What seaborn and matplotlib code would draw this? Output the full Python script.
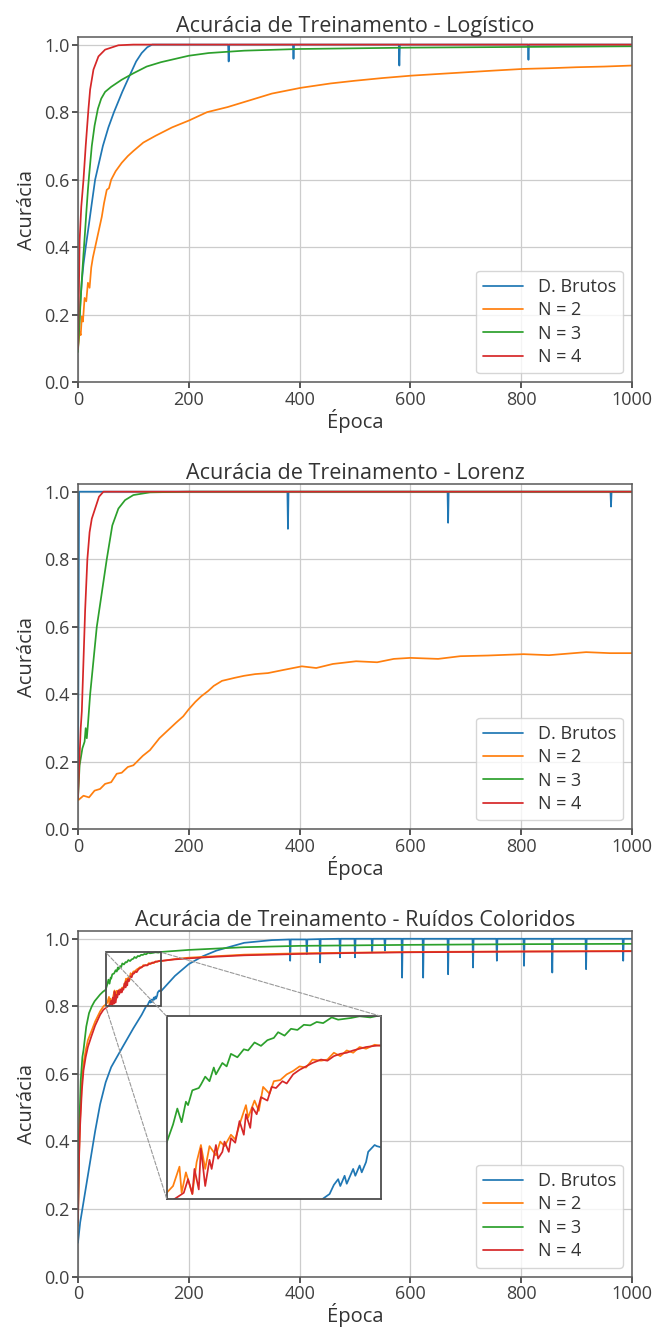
import matplotlib
matplotlib.use("Agg")
import matplotlib.pyplot as plt
import seaborn as sns
from matplotlib.patches import Rectangle, ConnectionPatch

# ---- Logístico ----
log_raw_ep = [0, 3, 7, 10, 14, 20, 25, 31, 38, 45, 55, 65, 80, 91, 105, 115, 125, 134, 200,
              271, 272, 273, 388, 389, 390, 579, 580, 581, 812, 813, 814, 1000]
log_raw_acc = [0.10, 0.20, 0.30, 0.35, 0.40, 0.47, 0.53, 0.60, 0.65, 0.70, 0.755, 0.80, 0.86, 0.90,
               0.95, 0.975, 0.992, 1.0, 1.0, 1.0, 0.95, 1.0, 1.0, 0.958, 1.0, 1.0, 0.938, 1.0,
               1.0, 0.955, 1.0, 1.0]
log_n2_ep = [0, 3, 5, 7, 9, 12, 15, 18, 21, 24, 27, 31, 35, 39, 43, 47, 52, 56, 60, 68, 79, 90,
             100, 118, 140, 170, 200, 233, 270, 300, 350, 402, 456, 500, 550, 601, 650, 700, 750,
             804, 850, 900, 950, 1000]
log_n2_acc = [0.10, 0.15, 0.14, 0.195, 0.18, 0.25, 0.24, 0.295, 0.28, 0.34, 0.37, 0.40, 0.43, 0.46,
              0.49, 0.53, 0.57, 0.575, 0.60, 0.625, 0.65, 0.67, 0.685, 0.71, 0.73, 0.755, 0.775,
              0.80, 0.815, 0.83, 0.855, 0.872, 0.885, 0.893, 0.901, 0.908, 0.913, 0.918, 0.923,
              0.928, 0.930, 0.933, 0.935, 0.938]
log_n3_ep = [0, 3, 5, 8, 10, 13, 15, 18, 20, 25, 30, 36, 42, 49, 60, 79, 100, 124, 150, 200, 236,
             300, 400, 500, 600, 800, 1000]
log_n3_acc = [0.09, 0.18, 0.25, 0.33, 0.38, 0.45, 0.50, 0.57, 0.61, 0.70, 0.76, 0.81, 0.84, 0.86,
              0.875, 0.896, 0.915, 0.935, 0.948, 0.967, 0.975, 0.982, 0.987, 0.989, 0.991, 0.993,
              0.995]
log_n4_ep = [0, 1, 2, 3, 6, 10, 14, 19, 22, 28, 37, 49, 73, 100, 1000]
log_n4_acc = [0.10, 0.20, 0.30, 0.42, 0.52, 0.60, 0.70, 0.81, 0.867, 0.926, 0.965, 0.985, 0.998,
              1.0, 1.0]

# ---- Lorenz ----
lor_raw_ep = [0, 2, 378, 379, 380, 667, 668, 669, 961, 962, 963, 1000]
lor_raw_acc = [0.09, 1.0, 1.0, 0.89, 1.0, 1.0, 0.908, 1.0, 1.0, 0.956, 1.0, 1.0]
lor_n2_ep = [0, 10, 20, 30, 40, 49, 60, 70, 79, 90, 100, 117, 130, 147, 160, 177, 190, 200, 212,
             223, 235, 245, 260, 283, 300, 320, 343, 370, 404, 430, 460, 502, 540, 570, 600, 650,
             690, 740, 804, 850, 917, 960, 1000]
lor_n2_acc = [0.086, 0.10, 0.095, 0.115, 0.12, 0.135, 0.14, 0.165, 0.168, 0.185, 0.19, 0.218,
              0.235, 0.27, 0.29, 0.316, 0.335, 0.356, 0.378, 0.395, 0.41, 0.425, 0.44, 0.449,
              0.455, 0.46, 0.463, 0.472, 0.483, 0.478, 0.49, 0.498, 0.495, 0.505, 0.508, 0.505,
              0.513, 0.515, 0.519, 0.516, 0.525, 0.522, 0.522]
lor_n3_ep = [0, 3, 8, 12, 14, 16, 18, 22, 28, 34, 43, 52, 62, 73, 85, 100, 130, 200, 1000]
lor_n3_acc = [0.09, 0.19, 0.24, 0.26, 0.30, 0.27, 0.31, 0.40, 0.50, 0.60, 0.70, 0.80, 0.90, 0.95,
              0.975, 0.99, 0.998, 1.0, 1.0]
lor_n4_ep = [0, 3, 5, 7, 10, 13, 17, 21, 25, 31, 38, 46, 1000]
lor_n4_acc = [0.09, 0.22, 0.30, 0.35, 0.50, 0.65, 0.80, 0.88, 0.92, 0.95, 0.985, 1.0, 1.0]

# ---- Ruídos Coloridos ----
rui_raw_ep = [0, 4, 8, 15, 22, 31, 40, 50, 60, 79, 100, 115, 123, 126, 128, 130, 131, 133, 134,
              137, 138, 140, 141, 143, 144, 147, 148, 150, 175, 200, 225, 250, 300, 350,
              382, 383, 384, 412, 413, 414, 436, 437, 438, 472, 473, 474, 499, 500, 501,
              530, 531, 532, 553, 554, 555, 584, 585, 586, 622, 623, 624, 667, 668, 669,
              712, 713, 714, 755, 756, 757, 804, 805, 806, 855, 856, 857, 916, 917, 918,
              983, 984, 985, 1000]
rui_raw_acc = [0.10, 0.16, 0.20, 0.27, 0.34, 0.43, 0.51, 0.575, 0.62, 0.675, 0.735, 0.775, 0.80,
               0.804, 0.812, 0.817, 0.811, 0.82, 0.813, 0.826, 0.82, 0.829, 0.823, 0.832, 0.841,
               0.847, 0.846, 0.845, 0.89, 0.925, 0.948, 0.965, 0.988, 0.996,
               0.998, 0.935, 0.998, 0.998, 0.955, 0.998, 0.999, 0.93, 0.999, 1.0, 0.945, 1.0,
               1.0, 0.945, 1.0, 1.0, 0.96, 1.0, 1.0, 0.965, 1.0, 1.0, 0.885, 1.0, 1.0, 0.885,
               1.0, 1.0, 0.895, 1.0, 1.0, 0.915, 1.0, 1.0, 0.935, 1.0, 1.0, 0.92, 1.0, 1.0, 0.90,
               1.0, 1.0, 0.91, 1.0, 1.0, 0.935, 1.0, 1.0]
rui_n2_ep = [0, 2, 4, 7, 10, 14, 18, 24, 31, 40, 46, 50, 53, 56, 57, 59, 62, 64, 66, 68, 70, 73,
             75, 77, 80, 82, 84, 87, 88, 91, 93, 95, 98, 100, 103, 106, 109, 112, 115, 118, 122,
             125, 128, 131, 134, 137, 140, 143, 147, 150, 175, 200, 300, 400, 600, 1000]
rui_n2_acc = [0.15, 0.36, 0.47, 0.57, 0.63, 0.67, 0.70, 0.725, 0.755, 0.785, 0.80, 0.805, 0.811,
              0.828, 0.805, 0.823, 0.804, 0.832, 0.847, 0.826, 0.846, 0.838, 0.850, 0.846, 0.856,
              0.852, 0.865, 0.882, 0.871, 0.886, 0.877, 0.898, 0.892, 0.903, 0.904, 0.909, 0.912,
              0.916, 0.915, 0.922, 0.921, 0.922, 0.928, 0.925, 0.930, 0.928, 0.933, 0.9315, 0.935,
              0.934, 0.940, 0.944, 0.953, 0.957, 0.961, 0.964]
rui_n3_ep = [0, 2, 5, 8, 10, 15, 20, 25, 30, 40, 45, 50, 53, 55, 57, 59, 60, 62, 65, 66, 68, 70,
             72, 73, 76, 78, 80, 83, 86, 88, 91, 94, 97, 100, 102, 105, 108, 111, 114, 117, 120,
             123, 127, 130, 136, 140, 145, 150, 200, 300, 400, 600, 800, 1000]
rui_n3_acc = [0.17, 0.42, 0.58, 0.65, 0.67, 0.74, 0.78, 0.80, 0.815, 0.835, 0.843, 0.849, 0.865,
              0.879, 0.867, 0.885, 0.882, 0.895, 0.897, 0.900, 0.907, 0.903, 0.915, 0.909, 0.919,
              0.916, 0.927, 0.924, 0.931, 0.930, 0.937, 0.934, 0.939, 0.941, 0.946, 0.943, 0.949,
              0.948, 0.9525, 0.952, 0.955, 0.954, 0.959, 0.957, 0.9585, 0.960, 0.959, 0.961,
              0.967, 0.975, 0.979, 0.982, 0.984, 0.985]
rui_n4_ep = [0, 2, 4, 7, 10, 14, 18, 24, 31, 40, 46, 50, 54, 58, 60, 62, 63, 65, 66, 68, 70, 71,
             73, 74, 76, 77, 79, 80, 82, 84, 86, 87, 89, 90, 92, 94, 97, 99, 101, 104, 106, 109,
             112, 115, 118, 122, 125, 128, 131, 134, 137, 140, 143, 147, 150, 175, 200, 250, 300,
             400, 500, 600, 800, 1000]
rui_n4_acc = [0.16, 0.35, 0.45, 0.55, 0.61, 0.65, 0.68, 0.71, 0.743, 0.775, 0.79, 0.795, 0.80,
              0.805, 0.817, 0.804, 0.826, 0.808, 0.844, 0.811, 0.834, 0.826, 0.847, 0.835, 0.841,
              0.850, 0.841, 0.853, 0.849, 0.868, 0.856, 0.874, 0.862, 0.880, 0.874, 0.889, 0.886,
              0.898, 0.897, 0.903, 0.901, 0.909, 0.913, 0.916, 0.919, 0.922, 0.921, 0.925, 0.927,
              0.928, 0.930, 0.9315, 0.933, 0.934, 0.9345, 0.939, 0.942, 0.947, 0.951, 0.955,
              0.958, 0.960, 0.962, 0.963]

labels = ["D. Brutos", "N = 2", "N = 3", "N = 4"]
titles = ["Acurácia de Treinamento - Logístico",
          "Acurácia de Treinamento - Lorenz",
          "Acurácia de Treinamento - Ruídos Coloridos"]
zoom_x = (50, 150)
zoom_y = (0.80, 0.96)

panels = [
    [(log_raw_ep, log_raw_acc), (log_n2_ep, log_n2_acc), (log_n3_ep, log_n3_acc), (log_n4_ep, log_n4_acc)],
    [(lor_raw_ep, lor_raw_acc), (lor_n2_ep, lor_n2_acc), (lor_n3_ep, lor_n3_acc), (lor_n4_ep, lor_n4_acc)],
    [(rui_raw_ep, rui_raw_acc), (rui_n2_ep, rui_n2_acc), (rui_n3_ep, rui_n3_acc), (rui_n4_ep, rui_n4_acc)],
]

sns.set_theme(style="whitegrid", rc={
    "axes.edgecolor": "0.35", "axes.linewidth": 1.1,
    "grid.color": "0.8", "grid.linewidth": 0.9,
    "xtick.bottom": True, "ytick.left": True,
    "xtick.major.size": 4, "ytick.major.size": 4,
    "xtick.color": "0.25", "ytick.color": "0.25",
    "text.color": "0.2", "axes.labelcolor": "0.2",
})
plt.rcParams["font.family"] = ["Open Sans", "DejaVu Sans"]
colors = sns.color_palette("tab10", 4)


def draw_curves(ax, series, with_labels=True):
    for (ep, acc), label, color in zip(series, labels, colors):
        sns.lineplot(x=ep, y=acc, ax=ax, color=color, linewidth=1.25,
                     estimator=None, sort=False,
                     label=label if with_labels else None)


fig, axes = plt.subplots(3, 1, figsize=(6.55, 13.27), dpi=100)
fig.subplots_adjust(left=0.119, right=0.965, top=0.972, bottom=0.038, hspace=0.295)

for ax, series, title in zip(axes, panels, titles):
    draw_curves(ax, series)
    ax.set_xlim(0, 1000)
    ax.set_ylim(0, 1.022)
    ax.set_xticks([0, 200, 400, 600, 800, 1000])
    ax.set_yticks([0.0, 0.2, 0.4, 0.6, 0.8, 1.0])
    ax.tick_params(labelsize=13, pad=2)
    ax.set_title(title, fontsize=15.5, pad=4)
    ax.set_xlabel("Época", fontsize=14.5, labelpad=0)
    ax.set_ylabel("Acurácia", fontsize=14.5, labelpad=5)
    ax.legend(loc="lower right", fontsize=13, frameon=True, edgecolor="0.8",
              borderaxespad=0.5, handlelength=2.2, labelspacing=0.3)

# inset zoom on the last panel
ax = axes[2]
axins = ax.inset_axes([0.16, 0.226, 0.387, 0.528])
draw_curves(axins, panels[2], with_labels=False)
axins.set_xlim(*zoom_x)
axins.set_ylim(*zoom_y)
axins.set_xticks([])
axins.set_yticks([])
axins.set_xlabel("")
axins.set_ylabel("")
axins.grid(False)
for sp in axins.spines.values():
    sp.set_edgecolor("0.3")
    sp.set_linewidth(1.3)

ax.add_patch(Rectangle((zoom_x[0], zoom_y[0]), zoom_x[1] - zoom_x[0], zoom_y[1] - zoom_y[0],
                       fill=False, edgecolor="0.3", linewidth=1.3, zorder=5))
for ins_corner, data_corner in [((0, 1), (zoom_x[0], zoom_y[1])),
                                ((0, 0), (zoom_x[0], zoom_y[0])),
                                ((1, 1), (zoom_x[1], zoom_y[1]))]:
    con = ConnectionPatch(xyA=ins_corner, coordsA=axins.transAxes,
                          xyB=data_corner, coordsB=ax.transData,
                          linestyle="--", color="0.6", linewidth=0.8)
    fig.add_artist(con)

fig.savefig("out.png", dpi=100)
